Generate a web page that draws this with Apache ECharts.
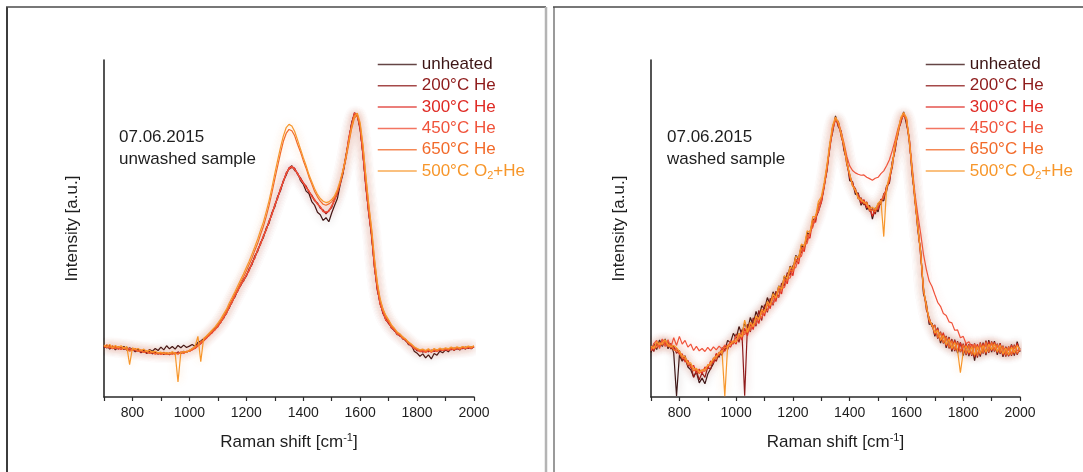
<!DOCTYPE html>
<html>
<head>
<meta charset="utf-8">
<script src="https://cdn.jsdelivr.net/npm/echarts@6/dist/echarts.min.js"></script>
<style>
html,body{margin:0;padding:0;background:#fff;}
#chart{width:1083px;height:472px;}
</style>
</head>
<body>
<div id="chart"></div>
<script>
// Raman shift (cm-1) sample positions shared by all spectra
const ramanShift = [
700,710,720,730,740,750,760,770,780,790,
800,810,820,830,840,850,860,870,880,890,
900,910,920,930,940,950,960,970,980,990,
1000,1010,1020,1030,1040,1050,1060,1070,1080,1090,
1100,1110,1120,1130,1140,1150,1160,1170,1180,1190,
1200,1210,1220,1230,1240,1250,1260,1270,1280,1290,
1300,1310,1320,1330,1340,1350,1360,1370,1380,1390,
1400,1410,1420,1430,1440,1450,1460,1470,1480,1490,
1500,1510,1520,1530,1540,1550,1560,1570,1580,1590,
1600,1610,1620,1630,1640,1650,1660,1670,1680,1690,
1700,1710,1720,1730,1740,1750,1760,1770,1780,1790,
1800,1810,1820,1830,1840,1850,1860,1870,1880,1890,
1900,1910,1920,1930,1940,1950,1960,1970,1980,1990,
2000];

const seriesNames = ['unheated','200°C He','300°C He','450°C He','650°C He','500°C O2+He'];
const seriesColors = ['#3d1616','#8e1b1b','#df2a24','#f0533b','#f26a2a','#f7962a'];
const xTickLabels = [800,1000,1200,1400,1600,1800,2000];
const panelNotes = [['07.06.2015','unwashed sample'],['07.06.2015','washed sample']];

// ---- unwashed sample (left panel), intensity in a.u. ----
const unwashedUnheated = [
14.6,15.4,14.2,15.1,14.0,14.9,14.3,15.0,13.9,14.6,
14.1,13.4,14.3,13.2,13.9,13.0,14.1,13.6,14.4,13.8,
14.8,14.0,15.2,14.3,15.0,14.2,15.3,14.6,15.4,14.7,
15.1,15.6,15.0,16.2,16.6,17.3,17.9,18.8,19.3,20.4,
21.2,22.6,23.4,25.3,26.4,28.6,29.7,31.9,33.0,34.9,
35.8,38.1,39.3,41.9,43.2,45.8,47.3,50.1,51.6,54.7,
56.4,59.5,61.2,64.1,65.8,67.9,68.6,67.2,66.5,64.3,
63.2,61.1,60.4,58.0,56.9,54.8,54.1,52.4,53.2,52.0,
54.6,56.8,58.9,63.0,66.4,71.2,76.0,81.3,84.0,83.5,
79.8,71.6,62.9,54.5,48.4,38.7,32.4,27.6,25.3,22.8,
22.2,20.4,19.9,18.5,18.4,17.2,16.9,15.5,15.4,13.6,
13.0,12.1,12.8,11.6,12.5,11.3,12.9,12.4,13.6,13.1,
14.0,13.4,14.5,13.8,14.6,13.9,14.8,14.2,15.0,14.3,
14.9];
const unwashed200 = [
15.2,14.5,15.3,14.4,15.0,14.2,14.8,14.1,14.7,13.9,
14.2,13.6,13.9,13.1,13.7,12.9,13.5,12.8,13.3,12.7,
13.2,12.6,13.1,12.5,13.3,12.7,13.4,12.9,13.6,13.2,
13.8,14.3,14.9,15.6,16.3,16.9,17.8,18.3,19.5,20.1,
21.3,22.0,23.8,24.7,26.9,28.0,30.3,31.4,33.5,34.3,
36.2,37.5,39.9,41.2,43.8,45.3,47.9,49.5,52.3,54.1,
57.1,58.9,61.9,63.7,66.5,67.6,68.1,67.9,66.0,65.1,
63.4,62.6,60.8,59.9,58.2,57.6,56.0,55.5,54.3,55.4,
56.2,58.7,60.2,63.8,66.7,71.8,76.2,81.2,84.4,83.6,
79.2,72.3,62.1,55.3,47.6,39.4,31.7,28.3,24.7,23.5,
21.7,21.0,19.6,19.1,18.0,17.8,16.6,16.2,15.0,14.6,
13.7,13.9,13.3,13.8,13.4,13.9,13.5,14.0,13.7,14.2,
13.8,14.3,14.0,14.5,14.2,14.6,14.3,14.8,14.4,14.9,
14.7];
const unwashed300 = [
14.8,15.1,14.5,14.9,14.3,14.7,14.1,14.6,14.0,14.4,
13.9,14.2,13.6,13.9,13.3,13.6,13.1,13.4,12.9,13.2,
12.8,13.1,12.7,13.0,12.8,13.1,12.9,13.3,13.0,13.5,
13.5,14.1,14.4,15.1,15.8,16.7,17.4,18.5,19.0,20.2,
20.8,22.3,23.3,25.1,26.5,28.4,29.8,31.7,33.1,34.7,
35.9,37.9,39.5,41.6,43.4,45.6,47.5,49.9,51.8,54.5,
56.6,59.3,61.4,64.2,66.0,68.0,68.5,67.7,66.3,64.9,
63.7,62.4,61.1,59.7,58.6,57.3,56.4,55.1,54.8,55.1,
56.6,58.5,60.6,63.4,67.2,71.3,76.8,80.8,84.1,83.9,
79.7,71.8,62.7,54.8,48.2,38.8,32.3,27.8,25.1,23.0,
22.1,20.6,19.9,18.7,18.3,17.4,16.9,15.9,15.3,14.5,
14.0,13.5,13.7,13.3,13.8,13.4,13.8,13.6,14.0,13.8,
14.1,13.9,14.3,14.0,14.5,14.2,14.6,14.4,14.7,14.5,
14.9];
const unwashed450 = [
15.3,14.7,15.0,14.3,14.9,14.2,14.6,14.5,14.1,14.5,
13.8,14.1,13.5,13.7,13.2,13.5,12.9,13.3,12.7,13.0,
12.6,13.0,12.6,12.9,12.7,13.0,12.8,13.2,13.1,13.4,
13.7,13.9,14.7,15.2,16.1,16.6,17.7,18.2,19.4,19.8,
21.1,22.1,23.6,24.8,26.7,28.1,30.1,31.5,33.3,34.5,
36.1,37.6,39.7,41.3,43.6,45.4,47.7,49.6,52.1,54.2,
56.9,59.1,61.7,63.9,66.3,67.7,68.4,67.4,66.4,64.6,
63.5,62.1,61.2,59.4,58.5,57.2,56.5,55.0,54.9,55.2,
56.8,58.2,60.8,63.3,67.4,71.0,77.0,80.5,84.3,83.7,
79.9,71.5,63.0,54.6,48.6,38.5,32.6,27.5,25.4,22.8,
22.3,20.5,20.0,18.6,18.4,17.3,17.0,15.8,15.4,14.3,
14.1,13.4,13.8,13.2,13.9,13.3,13.9,13.5,14.1,13.7,
14.2,13.8,14.4,13.9,14.6,14.1,14.7,14.3,14.8,14.4,
15.0];
const unwashed650 = [
14.9,15.5,14.6,15.2,14.4,15.0,14.2,14.8,14.1,13.6,
13.9,14.4,13.5,14.0,13.2,13.7,12.9,13.4,12.8,13.2,
12.7,13.3,12.6,13.1,12.8,13.2,12.7,13.4,13.0,13.6,
13.5,14.2,14.8,15.5,16.4,17.0,17.9,18.7,19.6,20.3,
21.4,22.5,24.0,25.4,27.2,28.8,30.6,32.2,34.0,35.6,
37.4,39.3,41.2,43.5,45.6,48.2,50.6,53.5,56.8,60.6,
64.6,68.4,72.3,75.8,78.2,79.4,79.0,77.5,75.0,72.8,
70.2,67.9,65.3,63.2,61.0,59.4,58.1,57.2,56.9,57.3,
57.9,59.2,61.0,63.6,66.8,70.6,75.1,79.6,82.8,83.6,
80.7,74.3,65.2,56.8,49.7,40.8,33.8,28.7,26.2,23.7,
22.7,21.0,20.3,19.0,18.6,17.5,17.1,16.0,15.6,14.7,
14.3,13.8,14.0,13.6,14.1,13.7,14.2,13.8,14.3,14.0,
14.4,14.1,14.6,14.2,14.7,14.4,14.9,14.5,15.0,14.6,
15.1];
const unwashed500O2 = [
15.4,14.8,15.6,14.5,15.3,14.7,15.2,14.4,15.0,9.6,
14.6,14.1,14.4,13.8,14.2,13.5,13.9,13.3,13.6,13.1,
13.3,12.9,13.2,12.8,13.4,13.0,4.5,13.2,13.5,13.3,
13.9,14.4,15.0,18.0,10.5,17.4,18.1,19.0,19.9,20.8,
21.9,23.1,24.6,26.0,27.9,29.5,31.2,33.0,34.8,36.5,
38.4,40.3,42.4,44.6,46.9,49.5,51.9,55.0,58.3,62.1,
66.3,70.2,74.0,77.4,79.9,80.9,80.4,78.8,76.3,73.7,
71.1,68.7,66.0,63.9,61.8,60.1,58.9,58.1,57.7,57.9,
58.6,59.7,61.6,64.3,67.4,71.3,75.8,80.1,83.3,84.2,
81.4,74.6,65.6,57.3,50.2,41.4,34.1,29.3,26.0,24.3,
22.9,21.4,20.4,19.3,18.7,17.8,17.2,16.3,15.7,14.9,
14.4,14.0,14.2,13.8,14.3,13.5,14.4,13.9,14.5,14.1,
14.6,14.3,14.8,14.4,14.9,14.5,15.0,14.7,15.1,14.8,
15.2];

// ---- washed sample (right panel), intensity in a.u. ----
const washedUnheated = [
13.2,15.8,14.1,16.9,15.0,17.2,14.3,15.9,13.1,0.3,
12.4,10.6,11.8,8.9,8.1,6.0,7.4,4.2,5.6,3.9,
6.8,8.4,9.9,12.7,11.8,14.6,13.9,16.8,16.1,18.9,
17.4,20.9,18.6,22.1,19.8,23.6,21.3,25.4,23.2,27.1,
26.1,29.5,27.3,31.2,29.3,33.0,32.1,35.9,34.8,38.8,
37.9,42.0,41.0,45.1,44.2,48.7,48.3,52.8,52.5,57.0,
58.1,62.8,67.1,75.0,78.6,83.4,80.2,78.9,73.1,70.4,
64.2,63.9,60.1,60.6,56.9,58.3,55.6,56.9,52.8,56.1,
54.9,58.7,58.2,62.6,63.5,69.8,73.2,79.1,81.3,84.6,
81.0,76.8,65.9,59.3,49.5,43.4,30.6,27.9,21.5,21.9,
18.0,20.6,16.0,18.8,14.6,17.8,13.5,17.0,13.0,16.2,
12.3,16.0,12.1,15.6,10.8,15.4,12.0,16.1,12.4,16.9,
13.3,16.6,12.5,16.0,11.9,14.9,12.1,15.6,12.3,16.4,
13.4];
const washed200 = [
14.6,13.5,16.2,14.8,17.1,15.3,16.4,14.2,15.1,13.0,
13.8,10.9,12.3,9.1,9.7,5.8,7.8,5.1,7.2,5.8,
8.9,8.2,11.4,10.6,13.2,12.4,15.1,14.1,16.3,15.7,
18.7,16.2,20.0,0.4,21.6,19.3,23.5,21.0,25.7,22.7,
27.4,25.1,29.3,27.2,31.4,29.5,33.8,33.0,36.9,36.1,
39.0,39.8,41.7,42.9,45.3,46.4,49.1,50.8,53.2,55.0,
57.7,62.1,68.3,73.6,80.4,82.1,81.8,77.3,74.6,68.9,
66.1,62.7,61.9,58.8,59.1,57.0,57.9,55.1,55.9,54.3,
57.4,57.1,60.3,61.0,65.2,68.1,74.8,77.7,82.6,83.5,
82.7,75.4,67.8,57.9,51.2,41.8,32.5,25.9,23.6,20.8,
21.4,17.3,19.4,15.9,18.1,14.4,17.2,13.6,16.6,13.3,
15.8,12.4,15.7,12.2,15.9,11.7,16.2,12.9,16.7,13.1,
16.5,13.5,15.8,12.8,15.2,12.0,15.0,12.2,15.5,12.5,
14.5];
const washed300 = [
14.9,14.0,15.6,15.1,16.8,16.0,15.2,15.8,14.1,14.4,
12.6,12.8,10.4,10.9,8.6,9.4,7.1,8.3,7.0,8.9,
8.4,10.7,10.1,12.9,12.2,14.3,13.6,15.4,14.8,16.6,
15.7,18.9,16.9,20.4,18.2,21.9,20.0,24.0,21.8,26.1,
24.0,28.3,26.2,30.4,28.3,32.4,30.6,35.1,33.6,38.0,
36.0,40.9,39.5,44.4,43.1,48.2,47.1,52.6,51.8,57.3,
57.6,62.9,67.4,74.8,79.1,82.9,80.5,78.4,73.7,70.1,
65.0,63.6,60.8,60.2,57.5,58.6,56.2,56.6,53.6,55.8,
55.7,58.6,58.9,62.5,63.8,69.6,73.5,78.8,81.5,84.3,
81.8,76.5,66.4,59.1,49.9,43.1,31.3,27.4,22.3,21.6,
18.5,20.3,16.6,19.1,15.1,17.6,14.0,16.8,13.4,16.1,
12.9,15.8,12.6,15.7,11.8,15.7,12.4,15.9,12.9,16.4,
13.7,16.3,13.1,15.8,12.4,14.8,12.2,15.4,12.7,15.9,
13.6];
const washed450 = [
13.7,15.8,16.8,14.4,17.2,15.0,17.0,14.7,17.6,15.3,
18.0,15.7,16.8,14.8,15.7,13.8,15.0,13.7,14.4,13.5,
14.7,13.7,14.9,14.0,15.1,14.2,15.4,14.8,16.7,16.1,
18.2,17.2,19.2,18.5,20.3,19.7,21.8,21.6,23.6,23.5,
25.6,25.6,27.7,27.6,29.7,29.8,32.2,32.5,35.1,35.3,
37.9,38.4,41.3,41.8,45.0,45.6,49.2,50.3,54.0,55.1,
58.2,62.4,67.6,74.2,79.3,82.4,81.6,78.7,75.3,71.4,
68.6,67.2,66.5,66.1,65.8,65.9,65.2,64.8,64.3,64.9,
65.2,66.3,67.1,68.6,70.4,73.1,76.2,79.6,82.3,84.1,
82.3,76.8,68.4,60.2,54.1,48.6,42.3,37.9,34.4,32.8,
30.4,28.1,26.9,24.8,24.2,22.3,22.0,19.8,19.9,17.6,
18.0,15.8,16.4,14.9,15.6,14.2,15.1,14.3,15.4,14.6,
15.9,14.4,15.2,13.9,14.6,13.1,14.1,13.0,14.7,13.8,
14.0];
const washed650 = [
14.2,15.1,14.6,16.3,15.4,16.7,14.9,15.4,14.0,13.7,
13.1,11.6,11.4,9.6,9.5,7.7,8.2,6.9,8.1,7.6,
9.6,9.4,11.6,11.4,13.3,13.1,14.8,14.6,15.9,16.0,
16.7,18.1,18.0,19.3,19.4,20.8,21.2,23.0,23.3,24.8,
25.5,27.2,27.5,29.3,29.6,31.7,31.8,34.8,34.7,37.8,
37.2,40.6,40.7,43.8,44.4,47.6,48.4,51.8,53.2,56.8,
59.0,62.5,68.6,74.2,80.1,82.5,81.3,77.6,74.3,69.2,
65.8,63.0,61.6,59.3,58.8,57.4,57.8,55.4,55.5,55.0,
57.0,57.6,59.9,61.6,64.9,68.6,74.5,78.2,82.4,83.8,
82.4,75.8,67.5,58.2,50.9,42.2,32.1,26.6,23.2,21.2,
21.1,17.6,19.1,16.1,17.8,14.7,16.7,14.0,16.2,13.5,
15.5,12.8,15.4,12.5,15.5,12.2,15.9,13.1,16.3,13.4,
16.2,13.8,15.6,13.1,15.1,12.4,14.9,12.5,15.2,12.9,
14.2];
const washed500O2 = [
15.1,14.3,16.4,15.5,16.1,17.0,15.6,14.9,15.3,14.6,
13.6,12.2,11.9,10.2,10.1,8.3,8.5,7.5,7.9,8.2,
9.3,10.1,11.2,12.2,12.9,13.8,0.2,15.1,15.6,16.7,
16.4,18.9,17.8,22.8,19.2,22.2,20.9,24.1,23.0,25.9,
25.1,28.4,27.2,30.7,29.4,32.9,32.0,36.0,35.1,38.6,
38.1,41.7,41.4,45.4,44.8,49.3,48.8,53.5,53.6,58.1,
59.4,63.6,68.9,75.5,80.6,83.1,81.5,78.2,74.8,69.7,
66.2,62.6,61.3,59.0,58.4,57.9,57.2,55.9,56.3,55.6,
57.5,58.3,47.6,62.2,65.6,69.1,74.9,78.9,82.9,84.4,
82.9,76.3,67.2,58.9,50.3,42.9,31.9,27.2,22.9,21.4,
19.0,19.8,16.8,18.3,15.5,17.2,14.4,16.2,13.8,7.2,
13.4,15.2,13.1,14.9,12.4,15.0,12.8,15.3,13.3,15.7,
14.0,15.8,13.4,15.4,12.8,14.5,12.5,14.8,13.1,15.3,
14.0];

const unwashedSets = [unwashedUnheated, unwashed200, unwashed300, unwashed450, unwashed650, unwashed500O2];
const washedSets = [washedUnheated, washed200, washed300, washed450, washed650, washed500O2];

const FONT = '"Liberation Sans", Arial, Helvetica, sans-serif';
const TXT = '#1e1e1e';

function hexA(hex, a) {
  const n = parseInt(hex.slice(1), 16);
  return 'rgba(' + ((n >> 16) & 255) + ',' + ((n >> 8) & 255) + ',' + (n & 255) + ',' + a + ')';
}

const grids = [
  { left: 104, right: 609, top: 60, bottom: 75 },
  { left: 651, right: 63, top: 60, bottom: 75 }
];

function xAxisFor(i) {
  return {
    type: 'value', gridIndex: i, min: 700, max: 2000, interval: 100,
    name: 'Raman shift [cm{sup|-1}]', nameLocation: 'middle', nameGap: 35,
    nameTextStyle: { fontFamily: FONT, fontSize: 17, color: TXT,
      rich: { sup: { fontFamily: FONT, fontSize: 11, color: TXT, padding: [0, 0, 9, 0] } } },
    axisLine: { show: true, onZero: false, lineStyle: { color: '#2a2a2a', width: 1.6 } },
    axisTick: { show: true, inside: false, length: 4, lineStyle: { color: '#2a2a2a', width: 1.2 } },
    axisLabel: { show: true, margin: 9, fontFamily: FONT, fontSize: 14, color: TXT,
      formatter: v => (xTickLabels.indexOf(v) >= 0 ? String(v) : '') },
    splitLine: { show: false }
  };
}
function yAxisFor(i) {
  return {
    type: 'value', gridIndex: i, min: 0, max: 100,
    name: 'Intensity [a.u.]', nameLocation: 'middle', nameGap: 23, nameRotate: 90,
    nameTextStyle: { fontFamily: FONT, fontSize: 17, color: TXT },
    axisLine: { show: true, lineStyle: { color: '#2a2a2a', width: 1.6 } },
    axisTick: { show: false }, axisLabel: { show: false }, splitLine: { show: false }
  };
}

const series = [];
[unwashedSets, washedSets].forEach((sets, gi) => {
  sets.forEach((vals, si) => {
    series.push({
      type: 'line', name: seriesNames[si], xAxisIndex: gi, yAxisIndex: gi,
      data: ramanShift.map((x, k) => [x, vals[k]]),
      showSymbol: false, symbol: 'none', animation: false,
      lineStyle: { color: seriesColors[si], width: 1.2,
        shadowBlur: 8, shadowColor: hexA(seriesColors[si], 0.3) },
      itemStyle: { color: seriesColors[si] },
      z: 2 + si
    });
  });
});

function legendFor(leftPx) {
  return {
    orient: 'vertical', left: leftPx, top: 56, padding: 0,
    itemWidth: 39, itemHeight: 14, itemGap: 4.3,
    selectedMode: false,
    itemStyle: { opacity: 0 },
    lineStyle: { width: 1.5, shadowBlur: 0, opacity: 0.8 },
    formatter: n => (n === '500°C O2+He' ? '500°C O{sub|2}+He' : n),
    textStyle: { fontFamily: FONT, fontSize: 17, padding: [0, 0, 0, 0] },
    data: seriesNames.map((n, i) => ({
      name: n,
      textStyle: { color: seriesColors[i], fontFamily: FONT, fontSize: 17,
        rich: { sub: { color: seriesColors[i], fontFamily: FONT, fontSize: 11, padding: [9, 0, 0, 0] } } }
    }))
  };
}

function noteText(x, y, t) {
  return { type: 'text', x: x, y: y, silent: true,
    style: { text: t, fontFamily: FONT, fontSize: 17, fill: TXT, verticalAlign: 'middle', align: 'left' } };
}
function seg(x1, y1, x2, y2, color, w) {
  return { type: 'line', silent: true, shape: { x1: x1, y1: y1, x2: x2, y2: y2 },
    style: { stroke: color, lineWidth: w } };
}

const chart = echarts.init(document.getElementById('chart'), null, { renderer: 'canvas' });
chart.setOption({
  backgroundColor: '#ffffff',
  animation: false,
  grid: grids,
  xAxis: [xAxisFor(0), xAxisFor(1)],
  yAxis: [yAxisFor(0), yAxisFor(1)],
  legend: [legendFor(377), legendFor(925)],
  series: series,
  graphic: [
    seg(7, 7, 7, 472, '#3c3c3c', 2),
    seg(6, 7, 546, 7, '#4a4a4a', 1.5),
    seg(546, 7, 546, 472, '#b4b4b4', 2.5),
    seg(554, 7, 554, 472, '#9a9a9a', 2),
    seg(553, 7, 1083, 7, '#4a4a4a', 1.5),
    noteText(119, 137, panelNotes[0][0]),
    noteText(119, 159, panelNotes[0][1]),
    noteText(667, 137, panelNotes[1][0]),
    noteText(667, 159, panelNotes[1][1])
  ]
});
</script>
</body>
</html>
